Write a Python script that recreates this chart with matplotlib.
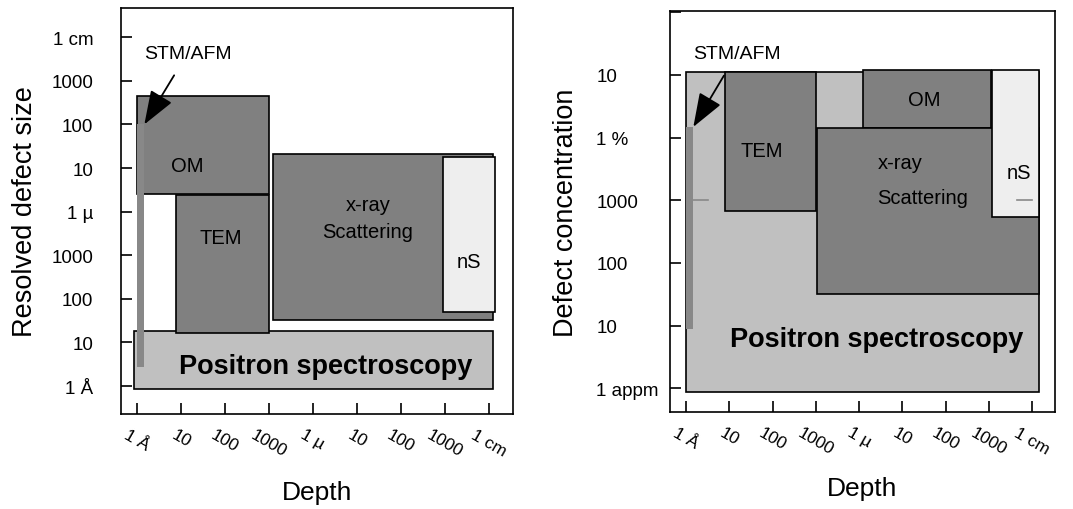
import matplotlib
matplotlib.use("Agg")
import matplotlib.pyplot as plt
from matplotlib.patches import Rectangle

plt.rcParams["font.family"] = ["Liberation Sans", "DejaVu Sans"]

DARK = "#808080"
LIGHT = "#c0c0c0"
PALE = "#eeeeee"
BAR = "#888888"

# axis scales are in decades (0 = first tick)
depth_labels = ["1 Å", "10", "100", "1000", "1 µ", "10", "100", "1000", "1 cm"]
size_labels = ["1 Å", "10", "100", "1000", "1 µ", "10", "100", "1000", "1 cm"]
conc_labels = ["1 appm", "10", "100", "1000", "1 %", "10", ""]

# left panel: technique -> (x0, x1, y0, y1) in decades
size_rects = {
    "Positron spectroscopy": (-0.07, 8.09, -0.07, 1.26),
    "OM": (0.0, 3.0, 4.4, 6.65),
    "TEM": (0.9, 3.0, 1.22, 4.38),
    "x-ray\nScattering": (3.1, 8.09, 1.51, 5.32),
    "nS": (6.95, 8.14, 1.7, 5.25),
}
size_stm = (0.0, 0.16, 0.44, 6.0)

# right panel
conc_rects = {
    "Positron spectroscopy": (0.0, 8.16, -0.06, 5.05),
    "TEM": (0.9, 3.0, 2.82, 5.05),
    "OM": (4.1, 7.05, 4.15, 5.08),
    "x-ray\nScattering": (3.03, 8.16, 1.51, 4.15),
    "nS": (7.08, 8.16, 2.74, 5.08),
}
conc_stm = (0.0, 0.16, 0.94, 4.17)

colors = {"Positron spectroscopy": LIGHT, "OM": DARK, "TEM": DARK,
          "x-ray\nScattering": DARK, "nS": PALE}

ARROW = dict(arrowstyle="-|>,head_length=1.5,head_width=0.55",
             color="black", lw=1.3, shrinkA=9, shrinkB=0)


def box(ax, ext, color, z):
    x0, x1, y0, y1 = ext
    ax.add_patch(Rectangle((x0, y0), x1 - x0, y1 - y0, facecolor=color,
                           edgecolor="black", lw=1.2, zorder=z))


def setup(ax, ylabels, ylab):
    ax.set_xticks(range(len(depth_labels)))
    ax.set_xticklabels(depth_labels, rotation=-30, ha="center", va="top",
                       fontsize=12.5)
    ax.set_yticks(range(len(ylabels)))
    ax.set_yticklabels(ylabels, fontsize=13.5)
    ax.tick_params(direction="in", length=8, width=1.2)
    ax.tick_params(axis="x", pad=9)
    for s in ax.spines.values():
        s.set_linewidth(1.2)
    ax.set_xlabel("Depth", fontsize=19, labelpad=14)
    ax.set_ylabel(ylab, fontsize=19.5)


fig = plt.figure(figsize=(10.73, 5.10), dpi=100)

# ---- left: resolved defect size
ax1 = fig.add_axes([0.1128, 0.1863, 0.3653, 0.7961])
ax1.set_xlim(-0.36, 8.55)
ax1.set_ylim(-0.64, 8.67)
for i, (name, ext) in enumerate(size_rects.items()):
    box(ax1, ext, colors[name], 2 + i)
x0, x1, y0, y1 = size_stm
ax1.add_patch(Rectangle((x0, y0), x1 - x0, y1 - y0, facecolor=BAR,
                        edgecolor="none", zorder=10))
setup(ax1, size_labels, "Resolved defect size")
ax1.tick_params(axis="y", pad=20)
ax1.xaxis.labelpad = 15
ax1.yaxis.set_label_coords(-0.212, 0.5)
ax1.text(4.3, 0.46, "Positron spectroscopy", ha="center", va="center",
         fontsize=19.5, fontweight="bold", zorder=12)
ax1.text(1.15, 5.05, "OM", ha="center", va="center", fontsize=14.5, zorder=12)
ax1.text(1.9, 3.4, "TEM", ha="center", va="center", fontsize=14.5, zorder=12)
ax1.text(5.25, 3.85, "x-ray\nScattering", ha="center", va="center",
         fontsize=14.5, linespacing=1.5, zorder=12)
ax1.text(7.55, 2.86, "nS", ha="center", va="center", fontsize=14.5, zorder=12)
ax1.annotate("STM/AFM", xy=(0.17, 6.0), xytext=(1.15, 7.63),
             ha="center", va="center", fontsize=14, zorder=13,
             arrowprops=ARROW)

# ---- right: defect concentration
ax2 = fig.add_axes([0.6244, 0.1902, 0.3588, 0.7863])
ax2.set_xlim(-0.37, 8.53)
ax2.set_ylim(-0.38, 6.02)
for i, (name, ext) in enumerate(conc_rects.items()):
    box(ax2, ext, colors[name], 2 + i)
x0, x1, y0, y1 = conc_stm
ax2.add_patch(Rectangle((x0, y0), x1 - x0, y1 - y0, facecolor=BAR,
                        edgecolor="none", zorder=10))
ax2.plot([0.16, 0.5], [3, 3], color="#888888", lw=1.2, zorder=11)
ax2.plot([7.65, 8.0], [3, 3], color="#888888", lw=1.2, zorder=11)
setup(ax2, conc_labels, "Defect concentration")
for lab in ax2.get_yticklabels():
    lab.set_horizontalalignment("left")
ax2.tick_params(axis="y", pad=53)
ax2.yaxis.set_label_coords(-0.237, 0.5)
ax2.text(4.4, 0.78, "Positron spectroscopy", ha="center", va="center",
         fontsize=19.5, fontweight="bold", zorder=12)
ax2.text(5.5, 4.6, "OM", ha="center", va="center", fontsize=14.5, zorder=12)
ax2.text(1.74, 3.8, "TEM", ha="center", va="center", fontsize=14.5, zorder=12)
ax2.text(4.95, 3.6, "x-ray", ha="center", va="center", fontsize=14.5, zorder=12)
ax2.text(5.48, 3.05, "Scattering", ha="center", va="center", fontsize=14.5,
         zorder=12)
ax2.text(7.7, 3.44, "nS", ha="center", va="center", fontsize=14.5, zorder=12)
ax2.annotate("STM/AFM", xy=(0.17, 4.17), xytext=(1.18, 5.34),
             ha="center", va="center", fontsize=14, zorder=13,
             arrowprops=ARROW)

fig.savefig("out.png", dpi=100)
